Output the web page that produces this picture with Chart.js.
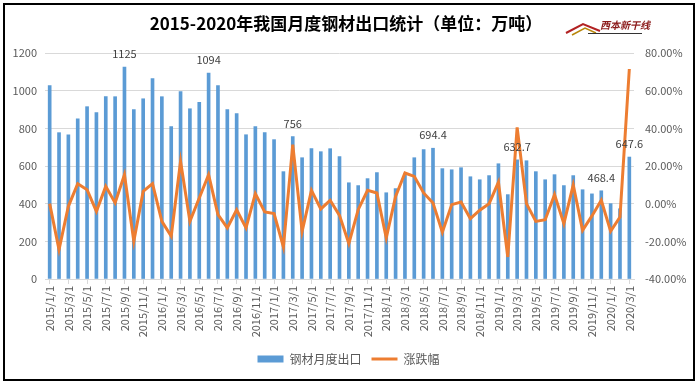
<!DOCTYPE html>
<html lang="zh">
<head>
    <meta charset="UTF-8">
    <title>2015-2020年我国月度钢材出口统计</title>
    <script src="https://cdn.jsdelivr.net/npm/chart.js"></script>
    <style>
        body {
            margin: 0;
            background-color: #fff;
            font-family: "Noto Sans CJK SC", sans-serif;
        }
        #wrap {
            position: relative;
            width: 697px;
            height: 386px;
        }
        #frame {
            position: absolute;
            left: 3px;
            top: 3px;
            width: 688px;
            height: 374px;
            border: 2px solid #000;
            pointer-events: none;
        }
        #title {
            position: absolute;
            left: 0;
            width: 692px;
            top: 10px;
            text-align: center;
            font-weight: bold;
            font-size: 17px;
            color: #000;
        }
        #logo {
            position: absolute;
            left: 600px;
            top: 17px;
            font-size: 10px;
            font-weight: bold;
            font-style: italic;
            color: #8b1a1a;
        }
    </style>
</head>
<body>
<div id="wrap">
    <canvas id="chart" width="697" height="386"></canvas>
    <div id="title">2015-2020年我国月度钢材出口统计（单位：万吨）</div>
    <div id="logo">西本新干线</div>
    <div id="frame"></div>
</div>

<script>
    // 月份
    const months = [
        '2015/1/1', '2015/2/1', '2015/3/1', '2015/4/1', '2015/5/1', '2015/6/1', '2015/7/1', '2015/8/1', '2015/9/1', '2015/10/1', '2015/11/1', '2015/12/1',
        '2016/1/1', '2016/2/1', '2016/3/1', '2016/4/1', '2016/5/1', '2016/6/1', '2016/7/1', '2016/8/1', '2016/9/1', '2016/10/1', '2016/11/1', '2016/12/1',
        '2017/1/1', '2017/2/1', '2017/3/1', '2017/4/1', '2017/5/1', '2017/6/1', '2017/7/1', '2017/8/1', '2017/9/1', '2017/10/1', '2017/11/1', '2017/12/1',
        '2018/1/1', '2018/2/1', '2018/3/1', '2018/4/1', '2018/5/1', '2018/6/1', '2018/7/1', '2018/8/1', '2018/9/1', '2018/10/1', '2018/11/1', '2018/12/1',
        '2019/1/1', '2019/2/1', '2019/3/1', '2019/4/1', '2019/5/1', '2019/6/1', '2019/7/1', '2019/8/1', '2019/9/1', '2019/10/1', '2019/11/1', '2019/12/1',
        '2020/1/1', '2020/2/1', '2020/3/1'
    ];

    // 钢材月度出口（万吨）
    const exportVol = [
        1027, 777, 766, 851, 915, 883, 968, 968, 1125, 899, 957, 1064,
        968, 809, 995, 904, 938, 1094, 1027, 899, 878, 766, 809, 777,
        740, 570, 756, 644, 692, 676, 692, 650, 511, 496, 533, 565,
        458, 480, 559, 644, 687, 694.4, 586, 580, 591, 543, 527, 549,
        612, 448, 632.7, 628, 570, 527, 554, 496, 549, 474, 452, 468.4,
        400, 373, 647.6
    ];

    // 涨跌幅（%）
    const changePct = [
        0, -24.4, -1.4, 10.6, 7.4, -4.1, 9.2, 0.4, 15.4, -20.0, 6.5, 10.6,
        -9.4, -17.3, 22.5, -9.4, 3.0, 15.4, -5.8, -12.9, -3.2, -12.9, 5.3, -4.4,
        -5.3, -23.0, 31.3, -14.7, 7.1, -2.8, 1.8, -6.2, -21.2, -3.2, 7.1, 5.7,
        -18.2, 3.9, 16.3, 14.5, 5.7, 0.4, -15.2, -0.5, 0.9, -8.0, -3.5, 0.0,
        11.4, -28.3, 40.5, 0.0, -9.4, -8.5, 4.8, -10.6, 10.0, -14.2, -6.5, 1.8,
        -14.7, -7.1, 71.5
    ];

    // 标注数值的月份
    const labelled = ['2015/9/1', '2016/6/1', '2017/3/1', '2018/6/1', '2019/3/1', '2019/12/1', '2020/3/1'];

    const leftTicks = [0, 200, 400, 600, 800, 1000, 1200];
    const rightTicks = [-40, -20, 0, 20, 40, 60, 80];

    const fontFam = '"Noto Sans CJK SC", sans-serif';
    const gray = '#595959';

    // 柱顶数值标签
    const valueLabels = {
        id: 'valueLabels',
        afterDatasetsDraw(chart) {
            const ctx = chart.ctx;
            const meta = chart.getDatasetMeta(1);
            ctx.save();
            ctx.font = '11px ' + fontFam;
            ctx.fillStyle = '#404040';
            ctx.textAlign = 'center';
            ctx.textBaseline = 'middle';
            labelled.forEach(m => {
                const i = months.indexOf(m);
                const bar = meta.data[i];
                ctx.fillText(String(exportVol[i]), bar.x, bar.y - 13);
            });
            ctx.restore();
        }
    };

    // 右上角标志的屋顶
    const logoMark = {
        id: 'logoMark',
        afterDraw(chart) {
            const ctx = chart.ctx;
            ctx.save();
            ctx.strokeStyle = '#b22222';
            ctx.lineWidth = 2;
            ctx.beginPath();
            ctx.moveTo(566, 33);
            ctx.lineTo(583, 24);
            ctx.lineTo(600, 31);
            ctx.stroke();
            ctx.strokeStyle = '#b8860b';
            ctx.lineWidth = 1.5;
            ctx.beginPath();
            ctx.moveTo(572, 35);
            ctx.lineTo(585, 28);
            ctx.lineTo(596, 33);
            ctx.stroke();
            ctx.strokeStyle = '#333';
            ctx.lineWidth = 1;
            ctx.beginPath();
            ctx.moveTo(588, 33.5);
            ctx.lineTo(642, 33.5);
            ctx.stroke();
            ctx.restore();
        }
    };

    const ctx = document.getElementById('chart').getContext('2d');
    const chart = new Chart(ctx, {
        data: {
            labels: months,
            datasets: [
                {
                    type: 'line',
                    label: '涨跌幅',
                    data: changePct,
                    yAxisID: 'y1',
                    borderColor: '#ED7D31',
                    backgroundColor: '#ED7D31',
                    borderWidth: 3,
                    pointRadius: 0,
                    tension: 0,
                    order: 0
                },
                {
                    type: 'bar',
                    label: '钢材月度出口',
                    data: exportVol,
                    yAxisID: 'y',
                    backgroundColor: '#5B9BD5',
                    barThickness: 3,
                    order: 1
                }
            ]
        },
        options: {
            responsive: false,
            animation: false,
            layout: {
                padding: { top: 53, bottom: 11, left: 0, right: 0 }
            },
            scales: {
                x: {
                    offset: true,
                    grid: {
                        offset: false,
                        drawOnChartArea: false,
                        drawTicks: true,
                        tickLength: 5,
                        color: c => (c.index % 2 === 0 ? '#d9d9d9' : 'rgba(0,0,0,0)')
                    },
                    border: { display: true, color: '#d9d9d9' },
                    ticks: {
                        autoSkip: false,
                        maxRotation: 90,
                        minRotation: 90,
                        padding: 2,
                        color: gray,
                        font: { size: 11, family: fontFam },
                        callback: function (v, i) {
                            return i % 2 === 0 ? this.getLabelForValue(v) : '';
                        }
                    },
                    afterFit: s => { s.height = 64; }
                },
                y: {
                    position: 'left',
                    min: 0,
                    max: 1200,
                    afterBuildTicks: s => { s.ticks = leftTicks.map(v => ({ value: v })); },
                    grid: { color: '#d9d9d9', drawTicks: false },
                    border: { display: false },
                    ticks: {
                        padding: 8,
                        color: gray,
                        font: { size: 11, family: fontFam },
                        callback: v => String(v)
                    },
                    afterFit: s => { s.width = 45; }
                },
                y1: {
                    position: 'right',
                    min: -40,
                    max: 80,
                    afterBuildTicks: s => { s.ticks = rightTicks.map(v => ({ value: v })); },
                    grid: { drawOnChartArea: false, drawTicks: false },
                    border: { display: false },
                    ticks: {
                        padding: 11,
                        color: gray,
                        font: { size: 11, family: fontFam },
                        callback: v => v.toFixed(2) + '%'
                    },
                    afterFit: s => { s.width = 63; }
                }
            },
            plugins: {
                legend: {
                    position: 'bottom',
                    reverse: true,
                    labels: {
                        color: gray,
                        font: { size: 12, family: fontFam },
                        usePointStyle: true,
                        pointStyleWidth: 26,
                        boxHeight: 7,
                        padding: 10,
                        generateLabels: function (chart) {
                            const items = Chart.defaults.plugins.legend.labels.generateLabels(chart);
                            items.forEach(it => {
                                it.pointStyle = it.datasetIndex === 0 ? 'line' : 'rect';
                                if (it.datasetIndex === 1) it.lineWidth = 0;
                            });
                            return items;
                        }
                    }
                },
                tooltip: { enabled: false }
            }
        },
        plugins: [valueLabels, logoMark]
    });
</script>
</body>
</html>
